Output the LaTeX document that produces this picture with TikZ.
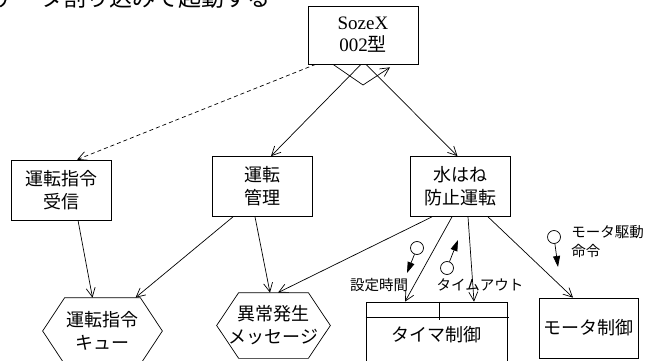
\documentclass[tikz,border=0pt]{standalone}
\usepackage{fontspec}
\setmainfont{Noto Sans CJK JP}
\newfontfamily\timesfont{Liberation Serif}
\usepackage{tikz}
\usetikzlibrary{arrows.meta}

\begin{document}
\begin{tikzpicture}[x=1pt,y=-1pt,line width=0.7pt,
  box/.style={draw,inner sep=0pt,minimum width=100,minimum height=60,align=center,font=\fontsize{18}{23}\selectfont},
  flow/.style={-{Straight Barb[length=9pt,width=9pt]}},
  couple/.style={-{Triangle[length=11pt,width=7pt]}},
  small/.style={inner sep=0pt,font=\fontsize{14.5}{19}\selectfont}]
\useasboundingbox (0,0) rectangle (645,361);

% heading, cut off at the top
\node[anchor=base west,inner sep=0pt,font=\fontsize{23}{23}\selectfont] (head) at (-6,6.5) {データ割り込みで起動する};

\node[box,minimum width=110,minimum height=58,font=\timesfont\fontsize{19}{22}\selectfont] (sozex) at (363,35) {SozeX\\002{\normalfont 型}};

\node[box] (recv) at (61,190) {運転指令\\受信};
\node[box] (mgmt) at (262,186.5) {運転\\管理};
\node[box] (splash) at (460.5,186.5) {水はね\\防止運転};

% hexagons
\node[box,draw=none,minimum width=119,minimum height=66] (queue) at (102.5,331) {運転指令\\キュー};
\node[box,draw=none,minimum width=113,minimum height=65] (msg) at (273.5,325.5) {異常発生\\メッセージ};
\foreach \h in {queue,msg}
  \draw ([xshift=22pt]\h.north west) -- ([xshift=-22pt]\h.north east) -- (\h.east)
     -- ([xshift=-22pt]\h.south east) -- ([xshift=22pt]\h.south west) -- (\h.west) -- cycle;

\node[box,minimum width=141,minimum height=66] (timer) at (436.5,335) {タイマ制御};
\draw ([yshift=-16pt]timer.north west) -- ([xshift=2pt,yshift=-16pt]timer.north east);
\draw ([xshift=74pt]timer.north west) -- ++(0,18);
\node[box,minimum width=99] (motor) at (588.5,328) {モータ制御};

% connectors
\draw[flow,dash pattern=on 4pt off 3pt] ([xshift=8pt]sozex.south west) -- ([xshift=16pt]recv.north);
\draw[flow] ([xshift=-2pt]sozex.south) -- ([xshift=9pt]mgmt.north);
\draw[flow] ([xshift=3pt]sozex.south) -- ([xshift=-3pt]splash.north);
\coordinate (vbot) at (363,85);
\draw[flow] ([xshift=-30pt]sozex.south) -- (vbot) -- ([xshift=27pt,yshift=-3pt]sozex.south);

\draw[flow] ([xshift=17pt]recv.south) -- ([xshift=-10pt]queue.north);
\draw[flow] ([xshift=-29pt]mgmt.south) -- ([xshift=33pt]queue.north);
\draw[flow] ([xshift=-7pt]mgmt.south) -- ([xshift=-3.5pt]msg.north);
\draw[flow] ([xshift=-28.5pt]splash.south) -- ([xshift=4.5pt]msg.north);
\draw[flow] ([xshift=-8.5pt]splash.south) -- ([xshift=-31.5pt]timer.north);
\draw[flow] ([xshift=7.5pt]splash.south) -- ([xshift=37.5pt]timer.north);
\draw[flow] ([xshift=27.5pt]splash.south) -- ([xshift=-15.5pt]motor.north);

% data couples
\foreach \n/\c/\e in {set/{417,248}/{407,273}, out/{447,268}/{458,240}, cmd/{554,237}/{558,267}} {
  \node[circle,draw,inner sep=0pt,minimum size=13] (\n) at (\c) {};
  \coordinate (\n end) at (\e);
  \draw[couple] (\n) -- (\n end);
}
\node[small] (settime) at (379,285) {設定時間};
\node[small] (timeout) at (480,285) {タイムアウト};
\node[small,anchor=west,align=left] (cmdlbl) at (571,242) {モータ駆動\\命令};
\end{tikzpicture}
\end{document}
